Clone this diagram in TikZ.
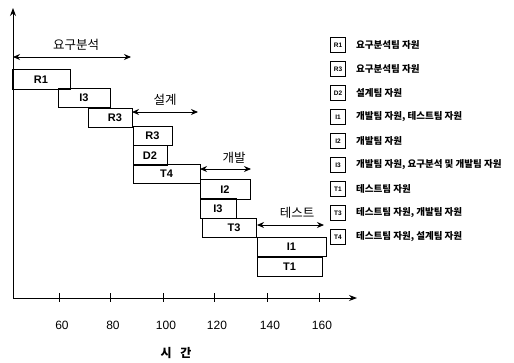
\documentclass[tikz,border=0pt]{standalone}
\usepackage{fontspec}
\setmainfont{Liberation Sans}
\newfontfamily\kr{Noto Sans CJK KR}
\usetikzlibrary{arrows.meta}
\providecommand{\ink}{black}
\tikzset{
  bar/.style = {draw = \ink, line width = 0.8pt, inner sep = 0pt, minimum height = 19.5pt, font = \bfseries\fontsize{11}{12}\selectfont},
  span/.style = {{Stealth[length = 7pt, width = 6pt]}-{Stealth[length = 7pt, width = 6pt]}, line width = 0.9pt},
  phase/.style = {font = \kr\fontsize{12.5}{14}\selectfont},
  legbox/.style = {draw = \ink, line width = 1pt, minimum size = 15.5pt, inner sep = 0pt, font = \bfseries\fontsize{6.5}{7}\selectfont},
  legtext/.style = {anchor = west, inner sep = 0pt, font = \kr\bfseries\fontsize{9.5}{10}\selectfont}
}

\begin{document}
\begin{tikzpicture}[x = 1pt, y = -1pt]
    \useasboundingbox (0, 0) rectangle (514, 362);

    % axes
    \coordinate (origin) at (13, 298);
    \coordinate (ytop) at (13, 8);
    \coordinate (xend) at (357, 298);
    \draw[line width = 1pt, -{Stealth[length = 8pt, width = 6pt]}] (origin) -- (ytop);
    \draw[line width = 1pt, -{Stealth[length = 8pt, width = 6pt]}] (origin) -- (xend);
    \foreach \x/\t in {59/60, 110/80, 163/100, 214/120, 267/140, 319/160} {
      \draw[line width = 0.8pt] (\x, 293) -- (\x, 302);
      \node[font = \fontsize{12}{14}\selectfont] (tick\t) at (\x + 3, 325) {\t};
    }
    \node[font = \kr\bfseries\fontsize{12}{14}\selectfont] (xlabel) at (176, 353) {시\hspace{6pt} 간};

    % tasks
    \node[bar, minimum width = 58pt] (r1) at (41, 79.5) {R1};
    \node[bar, minimum width = 52pt] (i3a) at (84, 98) {I3};
    \node[bar, minimum width = 44pt] (r3a) at (110, 118) {\hspace{10pt}R3};
    \node[bar, minimum width = 39pt] (r3b) at (152.5, 136) {R3};
    \node[bar, minimum width = 34pt] (d2) at (150, 155.5) {D2};
    \node[bar, minimum width = 67pt] (t4) at (166.5, 174) {T4};
    \node[bar, minimum width = 50pt] (i2) at (225, 189.5) {I2};
    \node[bar, minimum width = 36pt] (i3b) at (218, 208.5) {I3};
    \node[bar, minimum width = 54pt] (t3) at (229, 228) {\hspace{10pt}T3};
    \node[bar, minimum width = 69pt] (i1) at (291.5, 247) {I1};
    \node[bar, minimum width = 65pt] (t1) at (289.5, 267) {T1};

    % phases
    \coordinate (reqa) at (13, 57);
    \coordinate (reqb) at (131, 57);
    \draw[span] (reqa) -- (reqb);
    \node[phase] (req) at (76, 45) {요구분석};

    \coordinate (desa) at (132, 112);
    \coordinate (desb) at (198, 112);
    \draw[span] (desa) -- (desb);
    \node[phase] (des) at (165, 100) {설계};

    \coordinate (deva) at (200, 169);
    \coordinate (devb) at (251, 169);
    \draw[span] (deva) -- (devb);
    \node[phase] (dev) at (234, 158) {개발};

    \coordinate (tsta) at (257, 225);
    \coordinate (tstb) at (324, 225);
    \draw[span] (tsta) -- (tstb);
    \node[phase] (tst) at (297, 213) {테스트};

    % legend
    \foreach \lab/\txt [count = \i] in {R1/요구분석팀 자원, R3/요구분석팀 자원, D2/설계팀 자원,
        I1/{개발팀 자원, 테스트팀 자원}, I2/개발팀 자원, I3/{개발팀 자원, 요구분석 및 개발팀 자원},
        T1/테스트팀 자원, T3/{테스트팀 자원, 개발팀 자원}, T4/{테스트팀 자원, 설계팀 자원}} {
      \node[legbox] (leg\i) at (338, 21 + 24 * \i) {\lab};
      \node[legtext] (legt\i) at (356, 21 + 24 * \i) {\txt};
    }
\end{tikzpicture}
\end{document}
